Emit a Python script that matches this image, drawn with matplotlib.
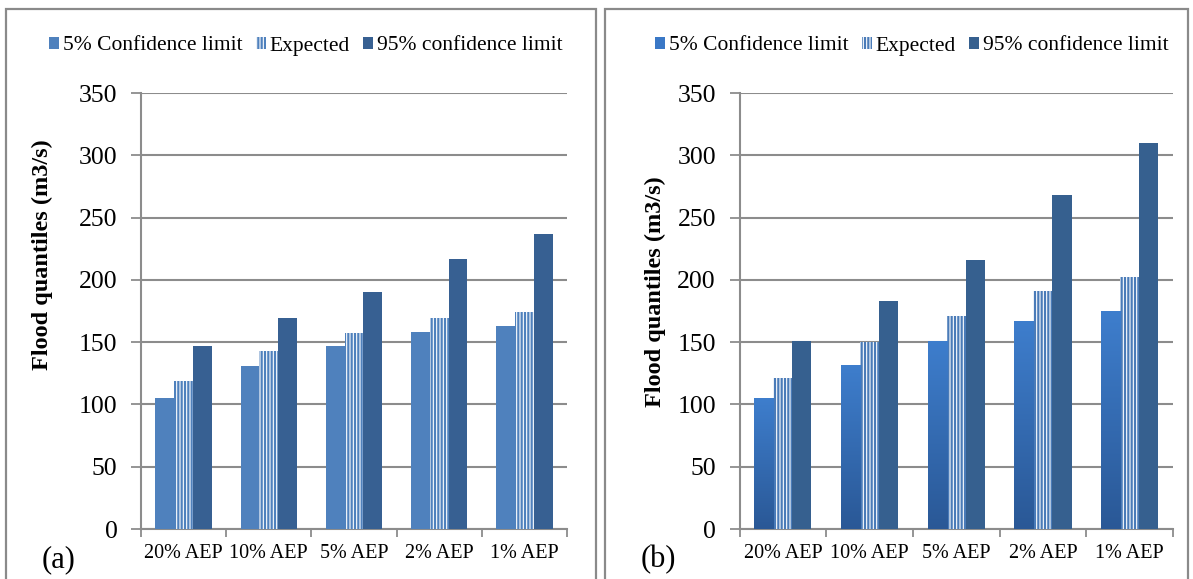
import numpy as np
import matplotlib
matplotlib.use("Agg")
import matplotlib.pyplot as plt
from matplotlib.patches import Rectangle
from matplotlib.colors import LinearSegmentedColormap

plt.rcParams['font.family'] = ['Liberation Serif', 'DejaVu Serif']
plt.rcParams['hatch.linewidth'] = 1.6

# Data
categories = ["20% AEP", "10% AEP", "5% AEP", "2% AEP", "1% AEP"]
series_names = ["5% Confidence limit", "Expected", "95% confidence limit"]

# panel (a)
a_low = [105, 131, 147, 158, 163]
a_expected = [119, 143, 157, 169, 174]
a_high = [147, 169, 190, 217, 237]

# panel (b)
b_low = [105, 132, 151, 167, 175]
b_expected = [121, 150, 171, 191, 202]
b_high = [151, 183, 216, 268, 310]

y_ticks = [0, 50, 100, 150, 200, 250, 300, 350]
y_label = "Flood quantiles (m3/s)"

W, H = 1193, 579
fig = plt.figure(figsize=(W / 100, H / 100), dpi=100)

GRID = '#8c8c8c'


def px_axes(x0, x1, ytop, ybot):
    return fig.add_axes([x0 / W, (H - ybot) / H, (x1 - x0) / W, (ybot - ytop) / H])


def panel(ax, low, exp, high, gradient, low_color, stripe_color, high_color):
    x = np.arange(len(categories))
    bw = 0.22
    b1 = ax.bar(x - bw, low, bw, color=low_color, linewidth=0, zorder=3)
    b2 = ax.bar(x, exp, bw, facecolor='white', edgecolor=stripe_color,
                hatch='|||||', linewidth=0, zorder=3)
    b3 = ax.bar(x + bw, high, bw, color=high_color, linewidth=0, zorder=3)
    if gradient:
        cmap = LinearSegmentedColormap.from_list('g', ['#2a5896', '#3e7ecd'])
        grad = np.linspace(0, 1, 256).reshape(-1, 1)
        for r in b1:
            rx, ry = r.get_x(), r.get_y()
            im = ax.imshow(grad, extent=[rx, rx + r.get_width(), ry, ry + r.get_height()],
                           origin='lower', aspect='auto', cmap=cmap, zorder=3.5)
            im.set_clip_path(r)
    ax.set_xlim(-0.5, len(categories) - 0.5)
    ax.set_ylim(0, 350)
    ax.set_yticks(y_ticks)
    ax.set_yticklabels([str(v) for v in y_ticks], fontsize=18.5)
    ax.set_xticks(x)
    ax.set_xticklabels(categories, fontsize=14.5)
    ax.set_xticks(np.arange(len(categories) + 1) - 0.5, minor=True)
    ax.tick_params(axis='x', which='major', length=0, pad=11)
    ax.tick_params(axis='x', which='minor', length=6, width=1.3, color=GRID, direction='out')
    ax.tick_params(axis='y', length=7, width=1.3, color=GRID, direction='out', pad=10)
    ax.grid(axis='y', color=GRID, linewidth=1.5, zorder=0)
    ax.set_axisbelow(True)
    for s in ['top', 'right']:
        ax.spines[s].set_visible(False)
    for s in ['left', 'bottom']:
        ax.spines[s].set_color(GRID)
        ax.spines[s].set_linewidth(1.5)
    return b1, b2, b3


# Panel frames
fig.patches.append(Rectangle((6 / W, -0.05), 590 / W, (H - 9) / H + 0.05, transform=fig.transFigure,
                             fill=False, edgecolor='#8a8a8a', linewidth=1.6))
fig.patches.append(Rectangle((605 / W, -0.05), 583 / W, (H - 9) / H + 0.05, transform=fig.transFigure,
                             fill=False, edgecolor='#8a8a8a', linewidth=1.6))

ax_a = px_axes(141, 567, 93, 529)
ax_b = px_axes(739.5, 1173, 93, 529)

ha = panel(ax_a, a_low, a_expected, a_high, False, '#4f81bd', '#4f81bd', '#376092')
hb = panel(ax_b, b_low, b_expected, b_high, True, '#3a78c6', '#4a7bb8', '#36608f')

for handles, cx in [(ha, 306), (hb, 912)]:
    fig.legend(handles, series_names, loc='center', bbox_to_anchor=(cx / W, (H - 46) / H),
               ncol=3, frameon=False, fontsize=15.5, handlelength=0.45, handleheight=0.45,
               handletextpad=0.2, columnspacing=0.6, borderpad=0)

fig.text(42 / W, (H - 255) / H, y_label, rotation=90, ha='center', va='center',
         fontsize=17.5, fontweight='bold')
fig.text(655 / W, (H - 292) / H, y_label, rotation=90, ha='center', va='center',
         fontsize=17.5, fontweight='bold')

fig.text(59 / W, (H - 560) / H, "(a)", ha='center', va='center', fontsize=22)
fig.text(658 / W, (H - 560) / H, "(b)", ha='center', va='center', fontsize=22)

fig.savefig('out.png', dpi=100)
